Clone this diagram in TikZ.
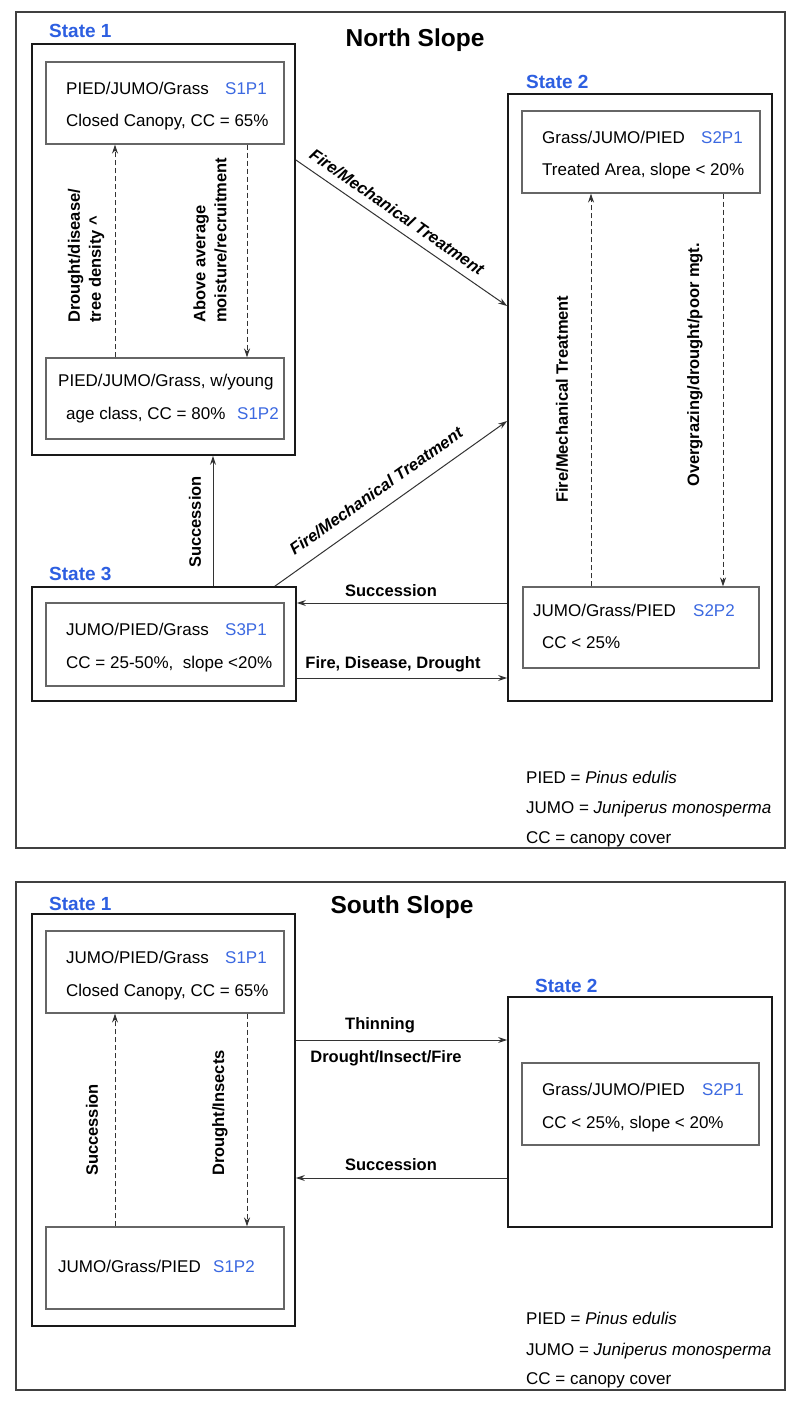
\documentclass[tikz,border=0pt]{standalone}
\usepackage{fontspec}
\setmainfont{Liberation Sans}
\usetikzlibrary{arrows.meta}
\definecolor{codeblue}{RGB}{60,105,225}
\definecolor{stateblue}{RGB}{45,95,225}
\begin{document}
\begin{tikzpicture}[x=1pt,y=-1pt,
  font=\fontsize{17}{21}\selectfont,
  panel/.style={draw=black!75, line width=1.5pt, inner sep=0pt},
  statebox/.style={draw=black!90, line width=1.8pt, inner sep=0pt},
  phasebox/.style={draw=black!60, line width=1.1pt, inner sep=0pt},
  txt/.style={anchor=base west, inner sep=0pt},
  code/.style={txt, text=codeblue},
  statelbl/.style={anchor=west, inner sep=0pt, font=\fontsize{19}{21}\selectfont\bfseries, text=stateblue},
  titlelbl/.style={inner sep=0pt, font=\fontsize{24.5}{28}\selectfont\bfseries},
  arr/.style={draw=black!80, line width=1pt, -{Stealth[length=9pt,width=6pt]}},
  dasharr/.style={arr, dash pattern=on 5pt off 3pt},
  vlbl/.style={rotate=90, anchor=west, align=left, inner sep=0pt, font=\fontsize{16.5}{21}\selectfont\bfseries},
  hlbl/.style={anchor=base, inner sep=0pt, font=\fontsize{16.5}{20}\selectfont\bfseries},
  dlbl/.style={inner sep=0pt, font=\fontsize{16.5}{20}\selectfont\bfseries\itshape}]

\path[use as bounding box, fill=white] (0,0) rectangle (800,1403);

% ================= NORTH SLOPE =================
\node[panel, minimum width=769pt, minimum height=836pt] (NP) at (400.5,430) {};
\node[titlelbl] (ntitle) at (415,40) {North Slope};

\node[statebox, minimum width=263pt, minimum height=411pt] (N1) at (163.5,249.5) {};
\node[phasebox, minimum width=238pt, minimum height=82pt] (N1P1) at (165,103) {};
\node[phasebox, minimum width=238pt, minimum height=81pt] (N1P2) at (165,398.5) {};
\node[statebox, minimum width=264pt, minimum height=607pt] (N2) at (640,397.5) {};
\node[phasebox, minimum width=238pt, minimum height=82pt] (N2P1) at (641,152) {};
\node[phasebox, minimum width=236pt, minimum height=81pt] (N2P2) at (641,627.5) {};
\node[statebox, minimum width=264pt, minimum height=114pt] (N3) at (164,644) {};
\node[phasebox, minimum width=238pt, minimum height=83pt] (N3P1) at (165,644.5) {};

\node[statelbl] (ns1l) at (49,31) {State 1};
\node[statelbl] (ns2l) at (526,82) {State 2};
\node[statelbl] (ns3l) at (49,574) {State 3};

\node[txt] (na1) at (66,94) {PIED/JUMO/Grass};
\node[code] (na2) at (225,94) {S1P1};
\node[txt] (na3) at (66,126) {Closed Canopy, CC = 65\%};

\node[txt] (nb1) at (58,386) {PIED/JUMO/Grass, w/young};
\node[txt] (nb2) at (66,419) {age class, CC = 80\%};
\node[code] (nb3) at (237,419) {S1P2};

\node[txt] (nc1) at (542,143) {Grass/JUMO/PIED};
\node[code] (nc2) at (701,143) {S2P1};
\node[txt] (nc3) at (542,175) {Treated Area, slope < 20\%};

\node[txt] (nd1) at (533,616) {JUMO/Grass/PIED};
\node[code] (nd2) at (693,616) {S2P2};
\node[txt] (nd3) at (542,648) {CC < 25\%};

\node[txt] (ne1) at (66,635) {JUMO/PIED/Grass};
\node[code] (ne2) at (225,635) {S3P1};
\node[txt] (ne3) at (66,668) {CC = 25-50\%,\ \ slope <20\%};

% north connectors
\coordinate (nd1a) at ([xshift=-50pt]N1P2.north);
\draw[dasharr] (nd1a) -- (nd1a |- N1P1.south);
\coordinate (nd2a) at ([xshift=82pt]N1P1.south);
\draw[dasharr] (nd2a) -- (nd2a |- N1P2.north);
\coordinate (nd3a) at ([xshift=-50pt]N2P2.north);
\draw[dasharr] (nd3a) -- (nd3a |- N2P1.south);
\coordinate (nd4a) at ([xshift=82pt]N2P1.south);
\draw[dasharr] (nd4a) -- (nd4a |- N2P2.north);

\draw[arr] ([yshift=89.5pt]N1.east) -- ([yshift=91.5pt]N2.west);
\draw[arr] ([xshift=111pt]N3.north) -- ([yshift=-23.5pt]N2.west);
\coordinate (nsa) at ([xshift=49pt]N3.north);
\draw[arr] (nsa) -- (nsa |- N1.south);
\coordinate (nc1a) at ([yshift=-205.5pt]N2.west);
\draw[arr] (nc1a) -- (nc1a -| N3.east);
\coordinate (nc2a) at ([yshift=-34pt]N3.east);
\draw[arr] (nc2a) -- (nc2a -| N2.west);

% north labels
\node[vlbl] (nl1) at (86,323) {Drought/disease/\\tree density \textasciicircum};
\node[vlbl] (nl2) at (210,323) {Above average\\moisture/recruitment};
\node[vlbl] (nl3) at (195,568) {Succession};
\node[vlbl] (nl4) at (562,503) {Fire/Mechanical Treatment};
\node[vlbl] (nl5) at (695,487) {Overgrazing/drought/poor mgt.};
\node[dlbl, rotate=-34.8] (nl6) at (397,212) {Fire/Mechanical Treatment};
\node[dlbl, rotate=35.3] (nl7) at (376,491) {Fire/Mechanical Treatment};
\node[hlbl] (nl8) at (391,596) {Succession};
\node[hlbl] (nl9) at (393,668) {Fire, Disease, Drought};

\node[txt] (nk1) at (526,783) {PIED = \textit{Pinus edulis}};
\node[txt] (nk2) at (526,813) {JUMO = \textit{Juniperus monosperma}};
\node[txt] (nk3) at (526,843) {CC = canopy cover};

% ================= SOUTH SLOPE =================
\node[panel, minimum width=769pt, minimum height=508pt] (SP) at (400.5,1136) {};
\node[titlelbl] (stitle) at (402,907) {South Slope};

\node[statebox, minimum width=263pt, minimum height=412pt] (S1) at (163.5,1120) {};
\node[phasebox, minimum width=238pt, minimum height=82pt] (S1P1) at (165,972) {};
\node[phasebox, minimum width=238pt, minimum height=82pt] (S1P2) at (165,1268) {};
\node[statebox, minimum width=264pt, minimum height=230pt] (S2) at (640,1112) {};
\node[phasebox, minimum width=237pt, minimum height=82pt] (S2P1) at (640.5,1104) {};

\node[statelbl] (ss1l) at (49,904) {State 1};
\node[statelbl] (ss2l) at (535,986) {State 2};

\node[txt] (sa1) at (66,963) {JUMO/PIED/Grass};
\node[code] (sa2) at (225,963) {S1P1};
\node[txt] (sa3) at (66,996) {Closed Canopy, CC = 65\%};

\node[txt] (sb1) at (58,1272) {JUMO/Grass/PIED};
\node[code] (sb2) at (213,1272) {S1P2};

\node[txt] (sc1) at (542,1095) {Grass/JUMO/PIED};
\node[code] (sc2) at (702,1095) {S2P1};
\node[txt] (sc3) at (542,1128) {CC < 25\%, slope < 20\%};

% south connectors
\coordinate (sd1a) at ([xshift=-50pt]S1P2.north);
\draw[dasharr] (sd1a) -- (sd1a |- S1P1.south);
\coordinate (sd2a) at ([xshift=82pt]S1P1.south);
\draw[dasharr] (sd2a) -- (sd2a |- S1P2.north);
\coordinate (sc3a) at ([yshift=80pt]S1.east);
\draw[arr] (sc3a) -- (sc3a -| S2.west);
\coordinate (sc4a) at ([yshift=-66pt]S2.west);
\draw[arr] (sc4a) -- (sc4a -| S1.east);

% south labels
\node[vlbl] (sl1) at (92,1176) {Succession};
\node[vlbl] (sl2) at (220,1176) {Drought/Insects};
\node[hlbl] (sl3) at (380,1029) {Thinning};
\node[hlbl] (sl4) at (386,1062) {Drought/Insect/Fire};
\node[hlbl] (sl5) at (391,1170) {Succession};

\node[txt] (sk1) at (526,1324) {PIED = \textit{Pinus edulis}};
\node[txt] (sk2) at (526,1355) {JUMO = \textit{Juniperus monosperma}};
\node[txt] (sk3) at (526,1384) {CC = canopy cover};

\end{tikzpicture}
\end{document}
